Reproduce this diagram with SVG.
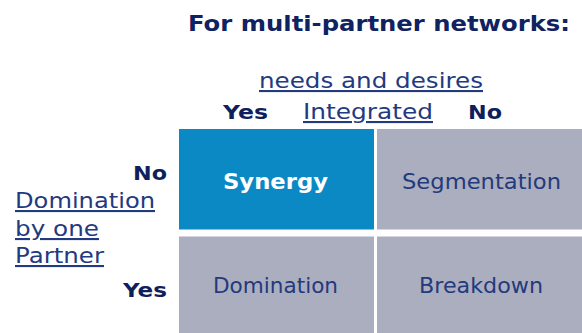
<svg xmlns="http://www.w3.org/2000/svg" width="582" height="333" viewBox="0 0 582 333">
<style>
text{font-family:"DejaVu Sans","Verdana",sans-serif;}
.title{font-size:22px;font-weight:bold;fill:#0f2262;}
.axis{font-size:21px;fill:#233a80;text-decoration:underline;}
.yn{font-size:19px;font-weight:bold;fill:#0f1f5c;}
.cell{font-size:21px;fill:#233a7c;}
.blue{fill:#0a89c5;}
.gray{fill:#abaebf;}
.syn{font-size:21px;font-weight:bold;fill:#ffffff;}
</style>
<rect width="582" height="333" fill="#ffffff"/>
<g id="title">
<text class="title" x="188" y="31" textLength="382" lengthAdjust="spacingAndGlyphs">For multi-partner  networks:</text>
</g>
<g id="x-axis">
<text class="axis" x="259" y="88" textLength="224" lengthAdjust="spacingAndGlyphs">needs and desires</text>
<text class="axis" x="303" y="119" textLength="130" lengthAdjust="spacingAndGlyphs">Integrated</text>
<text class="yn" x="223" y="119" textLength="45" lengthAdjust="spacingAndGlyphs">Yes</text>
<text class="yn" x="468" y="119" textLength="34" lengthAdjust="spacingAndGlyphs">No</text>
</g>
<g id="y-axis">
<text class="yn" x="133" y="180" textLength="34" lengthAdjust="spacingAndGlyphs">No</text>
<text class="axis" x="15" y="208" textLength="140" lengthAdjust="spacingAndGlyphs">Domination</text>
<text class="axis" x="15" y="236" textLength="84" lengthAdjust="spacingAndGlyphs">by one</text>
<text class="axis" x="15" y="263" textLength="89" lengthAdjust="spacingAndGlyphs">Partner</text>
<text class="yn" x="123" y="297" textLength="44" lengthAdjust="spacingAndGlyphs">Yes</text>
</g>
<g id="synergy">
<rect class="blue" x="179" y="129" width="195" height="100.5"/>
<text class="syn" x="223" y="189" textLength="105" lengthAdjust="spacingAndGlyphs">Synergy</text>
</g>
<g id="segmentation">
<rect class="gray" x="377" y="129" width="205" height="100.5"/>
<text class="cell" x="402" y="189" textLength="159" lengthAdjust="spacingAndGlyphs">Segmentation</text>
</g>
<g id="domination">
<rect class="gray" x="179" y="236.5" width="195" height="96.5"/>
<text class="cell" x="213" y="293" textLength="125" lengthAdjust="spacingAndGlyphs">Domination</text>
</g>
<g id="breakdown">
<rect class="gray" x="377" y="236.5" width="205" height="96.5"/>
<text class="cell" x="419" y="293" textLength="124" lengthAdjust="spacingAndGlyphs">Breakdown</text>
</g>
<g id="connectors"></g>
</svg>
